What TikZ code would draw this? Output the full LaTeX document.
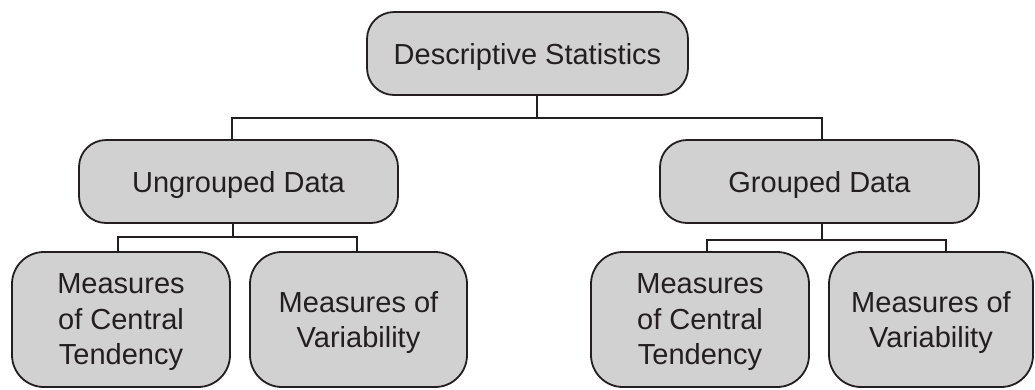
\documentclass[tikz,border=0pt]{standalone}
\usepackage{fontspec}
\setmainfont{Liberation Sans}
\definecolor{boxfill}{HTML}{D1D1D1}
\definecolor{ink}{HTML}{231F20}
\begin{document}
\begin{tikzpicture}[x=1pt,y=-1pt,
  box/.style={draw=ink, fill=boxfill, line width=1.8pt, text=ink,
    font=\fontsize{29}{35.5}\selectfont, align=center, inner sep=0pt},
  topbox/.style={box, rounded corners=27pt, minimum height=83pt, text depth=0pt},
  leafbox/.style={box, rounded corners=32pt, minimum height=135pt, text depth=-5.5pt},
  conn/.style={draw=ink, line width=1.8pt}]
\useasboundingbox (0,0) rectangle (1035,389);
\node[topbox, minimum width=321pt] (top) at (527.5,53.5) {Descriptive Statistics};
\node[topbox, minimum width=319pt] (ung) at (238.5,181.5) {Ungrouped Data};
\node[topbox, minimum width=319pt] (grp) at (819.5,181.5) {Grouped Data};
\node[leafbox, minimum width=218pt] (uc1) at (121,319.5) {Measures\\of Central\\Tendency};
\node[leafbox, minimum width=217pt] (uc2) at (358.5,319.5) {Measures of\\Variability};
\node[leafbox, minimum width=218pt] (gc1) at (700,319.5) {Measures\\of Central\\Tendency};
\node[leafbox, minimum width=204pt] (gc2) at (931,319.5) {Measures of\\Variability};
% junctions
\coordinate (b0) at (537,118);
\coordinate (bl) at (232,118);
\coordinate (br) at (822,118);
\coordinate (u0) at (233,237);
\coordinate (u1) at (118,237);
\coordinate (u2) at (357,237);
\coordinate (g0) at (822,240);
\coordinate (g1) at (707,240);
\coordinate (g2) at (946,240);
\draw[conn] (top.south -| b0) -- (b0);
\draw[conn] (ung.north -| bl) -- (bl) -- (br) -- (grp.north -| br);
\draw[conn] (ung.south -| u0) -- (u0);
\draw[conn] (uc1.north -| u1) -- (u1) -- (u2) -- (uc2.north -| u2);
\draw[conn] (grp.south -| g0) -- (g0);
\draw[conn] (gc1.north -| g1) -- (g1) -- (g2) -- (gc2.north -| g2);
\end{tikzpicture}
\end{document}
